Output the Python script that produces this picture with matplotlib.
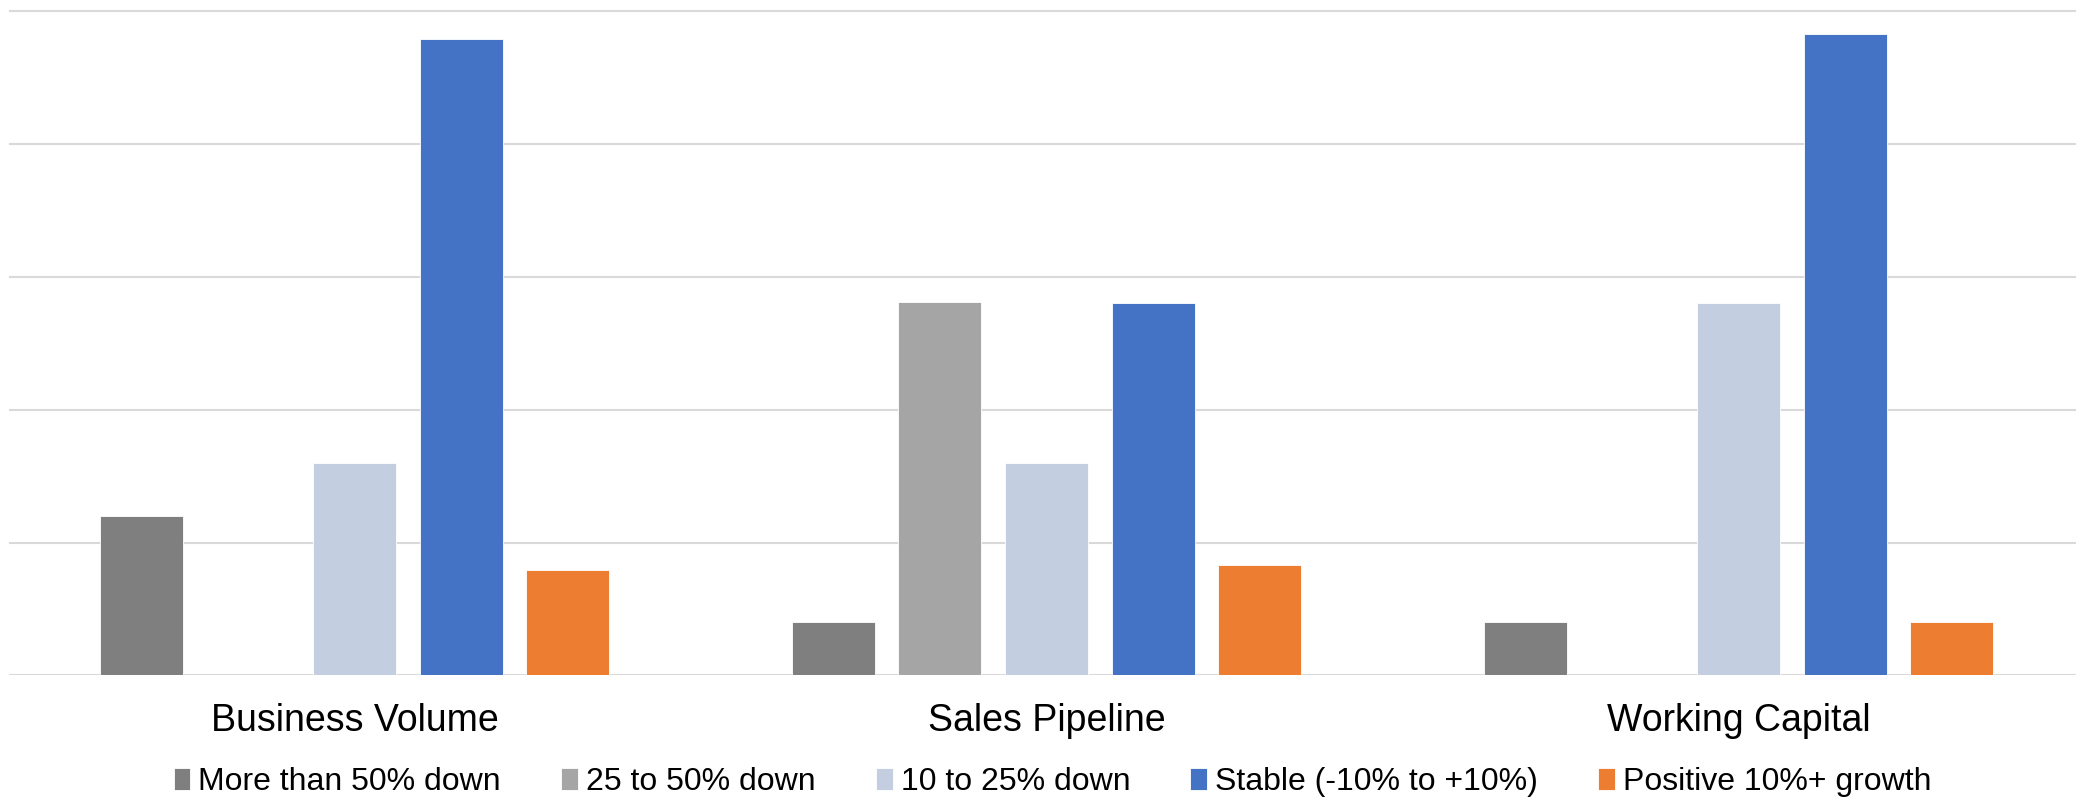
import matplotlib
matplotlib.use("Agg")
import matplotlib.pyplot as plt
import numpy as np

categories = ["Business Volume", "Sales Pipeline", "Working Capital"]
series_names = ["More than 50% down", "25 to 50% down", "10 to 25% down",
                "Stable (-10% to +10%)", "Positive 10%+ growth"]
more_than_50_down = [12, 4, 4]
down_25_50 = [0, 28.1, 0]
down_10_25 = [16, 16, 28]
stable = [47.9, 28, 48.3]
positive_growth = [7.9, 8.3, 4]
series_values = [more_than_50_down, down_25_50, down_10_25, stable, positive_growth]
colors = ["#7F7F7F", "#A5A5A5", "#C3CEE0", "#4472C4", "#ED7D31"]

plt.rcParams['font.family'] = ['Liberation Sans', 'DejaVu Sans']

W, H = 2076, 799
fig = plt.figure(figsize=(W / 100, H / 100), dpi=100)
left_px = 8.5
right_px = 8.5 + 3 * 692
base_px = 675.4
top_px = 11
ymax = 51
unit_px = (base_px - top_px) / 50
ax_h = unit_px * ymax
ax = fig.add_axes([left_px / W, (H - base_px) / H, (right_px - left_px) / W, ax_h / H])

x = np.arange(len(categories))
pitch = 0.154
width = 0.12
for i, (name, vals, col) in enumerate(zip(series_names, series_values, colors)):
    ax.bar(x + (i - 2) * pitch, vals, width=width, color=col, label=name,
           edgecolor="white", linewidth=0.6, zorder=3)

ax.set_xlim(-0.5, 2.5)
ax.set_ylim(0, ymax)
ax.set_yticks([0, 10, 20, 30, 40, 50])
ax.yaxis.grid(True, color="#D9D9D9", linewidth=1.5, zorder=0)
ax.set_axisbelow(True)
ax.tick_params(axis="y", left=False, labelleft=False)
ax.set_xticks(x)
ax.set_xticklabels(categories, fontsize=27)
ax.tick_params(axis="x", length=0, pad=20)
for s in ax.spines.values():
    s.set_visible(False)

handles, labels = ax.get_legend_handles_labels()
fig.legend(handles, labels, loc="lower center", ncol=5, frameon=False,
           bbox_to_anchor=(0.507, -0.034), fontsize=23, handlelength=0.53,
           handleheight=0.7, handletextpad=0.25, columnspacing=1.88)

fig.savefig("out.png", dpi=100)
